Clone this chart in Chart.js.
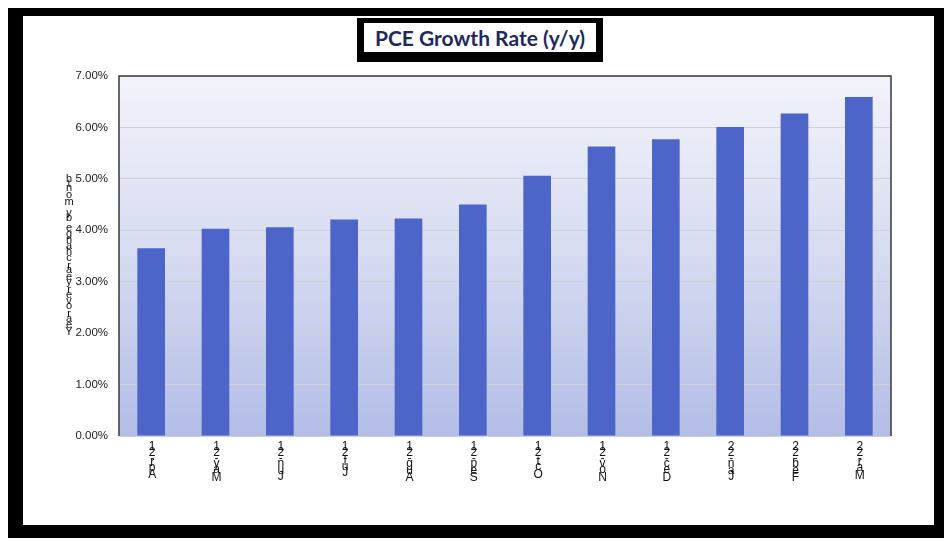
<!DOCTYPE html>
<html>
<head>
<meta charset="utf-8">
<script src="https://cdn.jsdelivr.net/npm/chart.js@4/dist/chart.umd.min.js"></script>
<style>
  html, body { margin: 0; padding: 0; background: #fff; }
  #wrap { position: relative; width: 947px; height: 541px; overflow: hidden; }
  #frame {
    position: absolute; left: 8px; top: 8px; width: 911px; height: 509px;
    border-style: solid; border-color: #000;
    border-width: 8px 10px 13px 15px;
  }
  #titleBox {
    position: absolute; left: 357px; top: 18px; width: 232px; height: 29px;
    background: #fff; border-style: solid; border-color: #000;
    border-width: 5px 7px 10px 7px;
    font: bold 21px Lato, "Open Sans", sans-serif; color: #1f2a5c;
    text-align: center; line-height: 29px; white-space: nowrap;
  }
  canvas { position: absolute; left: 0; top: 0; }
</style>
</head>
<body>
<div id="wrap">
  <div id="frame"></div>
  <canvas id="pceChart" width="947" height="541"></canvas>
  <div id="titleBox">PCE Growth Rate (y/y)</div>
</div>
<script>
// data
const months = ['Apr-21', 'May-21', 'Jun-21', 'Jul-21', 'Aug-21', 'Sep-21',
                'Oct-21', 'Nov-21', 'Dec-21', 'Jan-22', 'Feb-22', 'Mar-22'];
const pceGrowth = [3.65, 4.03, 4.06, 4.21, 4.23, 4.50, 5.06, 5.63, 5.77, 6.01, 6.27, 6.59];
const yAxisTitle = 'Year over year change by month';
const yMin = 0;
const yMax = 7;
const yStep = 1;

const labelFont = '12px "Liberation Sans", Arial, sans-serif';
const titleFont = '11px "Liberation Sans", Arial, sans-serif';

// draws text the way the original export did: rotated reading order, glyphs upright, stacked
const drawStacked = (ctx, text, cx, yTop) => {
  const chars = text.split('');
  let y = yTop;
  for (let i = chars.length - 1; i >= 0; i--) {
    const w = ctx.measureText(chars[i]).width;
    if (chars[i] !== ' ') ctx.fillText(chars[i], cx, y + w / 2);
    y += w;
  }
};

const stackHeight = (ctx, text) =>
  text.split('').reduce((s, ch) => s + ctx.measureText(ch).width, 0);

const plotDecor = {
  id: 'plotDecor',
  beforeDraw(chart) {
    const { ctx, chartArea: a } = chart;
    const g = ctx.createLinearGradient(0, a.top, 0, a.bottom);
    g.addColorStop(0, '#f3f4fb');
    g.addColorStop(0.5, '#d6dbf1');
    g.addColorStop(1, '#b3bde6');
    ctx.save();
    ctx.fillStyle = g;
    ctx.fillRect(a.left, a.top, a.right - a.left, a.bottom - a.top);
    ctx.restore();
  },
  afterDraw(chart) {
    const { ctx, chartArea: a, scales } = chart;
    ctx.save();
    // plot border (top, left, right)
    ctx.strokeStyle = '#3a3a3a';
    ctx.lineWidth = 1.5;
    ctx.beginPath();
    ctx.moveTo(a.left, a.bottom);
    ctx.lineTo(a.left, a.top);
    ctx.lineTo(a.right, a.top);
    ctx.lineTo(a.right, a.bottom);
    ctx.stroke();

    ctx.fillStyle = '#111';
    ctx.textAlign = 'center';
    ctx.textBaseline = 'middle';
    // category labels
    ctx.font = labelFont;
    months.forEach((m, i) => {
      const x = scales.x.getPixelForValue(i);
      drawStacked(ctx, m, x + 1, a.bottom + 7);
    });
    // y axis title
    ctx.font = titleFont;
    const h = stackHeight(ctx, yAxisTitle);
    drawStacked(ctx, yAxisTitle, 69, (a.top + a.bottom) / 2 - h / 2);
    ctx.restore();
  }
};

new Chart(document.getElementById('pceChart'), {
  type: 'bar',
  data: {
    labels: months,
    datasets: [{
      label: 'PCE Growth Rate',
      data: pceGrowth,
      backgroundColor: '#4d65c8',
      borderWidth: 0,
      barPercentage: 0.43,
      categoryPercentage: 1
    }]
  },
  options: {
    responsive: false,
    animation: false,
    devicePixelRatio: 1,
    layout: { padding: { left: 69, top: 76, right: 56, bottom: 45 } },
    plugins: {
      legend: { display: false },
      title: { display: false },
      tooltip: { enabled: false }
    },
    scales: {
      x: {
        grid: { display: false, drawTicks: false },
        border: { display: false },
        ticks: { display: false },
        afterFit: (s) => { s.height = 60; }
      },
      y: {
        min: yMin,
        max: yMax,
        ticks: {
          stepSize: yStep,
          padding: 11,
          color: '#222',
          font: { family: '"Liberation Sans", Arial, sans-serif', size: 11.5 },
          callback: (v) => v.toFixed(2) + '%'
        },
        grid: { color: '#cfd0d6', lineWidth: 1, drawTicks: false },
        border: { display: false },
        afterFit: (s) => { s.width = 50; }
      }
    }
  },
  plugins: [plotDecor]
});
</script>
</body>
</html>
